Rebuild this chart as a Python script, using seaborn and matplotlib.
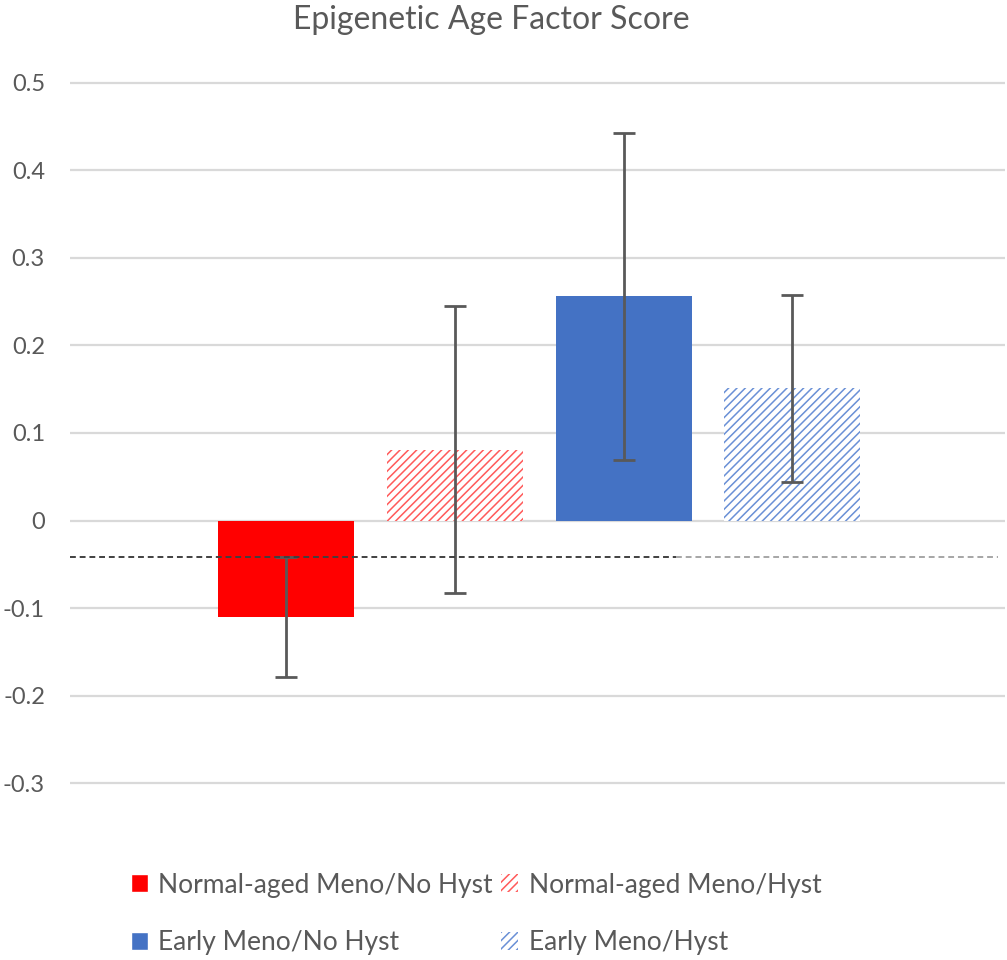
import matplotlib
matplotlib.use("Agg")
import matplotlib.pyplot as plt
import seaborn as sns
import pandas as pd
from matplotlib.patches import Patch

# data
groups = ["Normal-aged Meno/No Hyst", "Normal-aged Meno/Hyst",
          "Early Meno/No Hyst", "Early Meno/Hyst"]
scores = [-0.110, 0.081, 0.256, 0.151]
errors = [0.068, 0.164, 0.187, 0.107]
ref_level = -0.041
yticks = [-0.3, -0.2, -0.1, 0, 0.1, 0.2, 0.3, 0.4, 0.5]
ytick_labels = ["-0.3", "-0.2", "-0.1", "0", "0.1", "0.2", "0.3", "0.4", "0.5"]

bar_colors = ["#FF0000", "#FFFFFF", "#4472C4", "#FFFFFF"]
hatch_colors = [None, "#FF5A5A", None, "#6A90D6"]

sns.set_style("white")
plt.rcParams["font.family"] = ["Lato", "DejaVu Sans"]
plt.rcParams["hatch.linewidth"] = 1.1

df = pd.DataFrame({"group": groups, "score": scores})

fig = plt.figure(figsize=(10.07, 9.6), dpi=100)
ax = fig.add_axes([70 / 1007, 1 - 786 / 960, 935 / 1007, (786 - 80) / 960])

sns.barplot(data=df, x="group", y="score", order=groups, hue="group",
            palette=dict(zip(groups, bar_colors)), width=0.805, saturation=1,
            legend=False, errorbar=None, ax=ax, zorder=2)

for bar, hc in zip(ax.patches, hatch_colors):
    bar.set_linewidth(0)
    if hc is not None:
        bar.set_hatch("////")
        bar.set_edgecolor(hc)

centers = [b.get_x() + b.get_width() / 2 for b in ax.patches]
ax.errorbar(centers, scores, yerr=errors, fmt="none", ecolor="#595959",
            elinewidth=2.0, capsize=8, capthick=2.0, zorder=4)

# dashed reference line (darker over the first part, lighter after)
ax.hlines(ref_level, -1.28, 2.31, colors="#404040", linestyles=(0, (3, 2)),
          linewidth=1.4, zorder=5)
ax.hlines(ref_level, 2.31, 4.22, colors="#A6A6A6", linestyles=(0, (3, 2)),
          linewidth=1.4, zorder=5)

ax.set_xlim(-1.28, 4.26)
ax.set_ylim(-0.303, 0.503)
ax.set_yticks(yticks)
ax.set_yticklabels(ytick_labels)
ax.yaxis.grid(True, color="#D9D9D9", linewidth=1.6, zorder=0)
ax.set_axisbelow(True)
ax.set_xticks([])
ax.set_xlabel("")
ax.set_ylabel("")
ax.tick_params(axis="y", length=0, pad=18, labelsize=17, labelcolor="#595959")
for s in ax.spines.values():
    s.set_visible(False)

fig.text(491 / 1007, 1 - 20 / 960, "Epigenetic Age Factor Score",
         ha="center", va="center", fontsize=23, color="#595959")

handles = [
    Patch(facecolor=bar_colors[0], label=groups[0]),
    Patch(facecolor=bar_colors[2], label=groups[2]),
    Patch(facecolor="white", edgecolor=hatch_colors[1], hatch="////", linewidth=0, label=groups[1]),
    Patch(facecolor="white", edgecolor=hatch_colors[3], hatch="////", linewidth=0, label=groups[3]),
]
fig.legend(handles=handles, ncol=2, loc="center", bbox_to_anchor=(476 / 1007, 1 - 914 / 960),
           frameon=False, fontsize=19, labelcolor="#595959", handlelength=0.65,
           handleheight=0.65, handletextpad=0.4, columnspacing=0.3, labelspacing=1.25)

fig.savefig("out.png", dpi=100)
